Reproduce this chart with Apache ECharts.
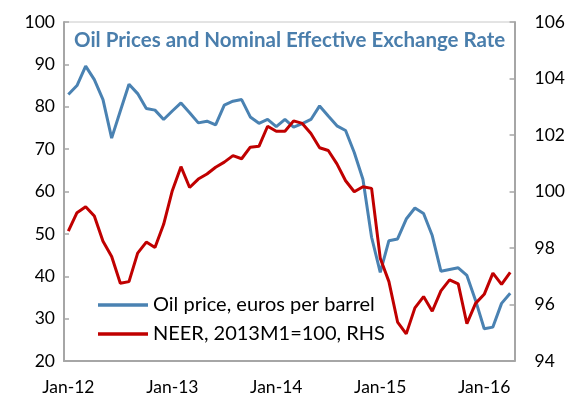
<!DOCTYPE html>
<html>
<head>
<meta charset="utf-8">
<script src="https://cdn.jsdelivr.net/npm/echarts@6/dist/echarts.min.js"></script>
<style>
  html, body { margin: 0; padding: 0; background: #fff; }
  #chart { width: 568px; height: 402px; }
</style>
</head>
<body>
<div id="chart"></div>
<script>
// monthly, Jan-12 .. Apr-16
var months = [
    'Jan-12', 'Feb-12', 'Mar-12', 'Apr-12', 'May-12', 'Jun-12', 'Jul-12', 'Aug-12', 'Sep-12', 'Oct-12', 'Nov-12', 'Dec-12',
    'Jan-13', 'Feb-13', 'Mar-13', 'Apr-13', 'May-13', 'Jun-13', 'Jul-13', 'Aug-13', 'Sep-13', 'Oct-13', 'Nov-13', 'Dec-13',
    'Jan-14', 'Feb-14', 'Mar-14', 'Apr-14', 'May-14', 'Jun-14', 'Jul-14', 'Aug-14', 'Sep-14', 'Oct-14', 'Nov-14', 'Dec-14',
    'Jan-15', 'Feb-15', 'Mar-15', 'Apr-15', 'May-15', 'Jun-15', 'Jul-15', 'Aug-15', 'Sep-15', 'Oct-15', 'Nov-15', 'Dec-15',
    'Jan-16', 'Feb-16', 'Mar-16', 'Apr-16'
];

// oil price, euros per barrel (LHS)
var oilPrice = [
    82.9, 85.0, 89.6, 86.4, 81.7, 72.6, 79.0, 85.3, 83.1, 79.6, 79.2, 77.0,
    79.0, 80.9, 78.6, 76.2, 76.6, 75.7, 80.4, 81.3, 81.7, 77.6, 76.1, 77.0,
    75.3, 77.0, 75.2, 76.0, 77.0, 80.2, 77.8, 75.5, 74.4, 69.2, 62.9, 49.2,
    40.9, 48.4, 48.8, 53.5, 56.1, 54.8, 49.6, 41.2, 41.6, 42.0, 40.2, 34.3,
    27.6, 28.0, 33.6, 36.0
];

// NEER, 2013M1 = 100 (RHS)
var neer = [
    98.60, 99.25, 99.46, 99.13, 98.24, 97.70, 96.75, 96.81, 97.82, 98.21, 98.02, 98.84,
    100.03, 100.88, 100.14, 100.44, 100.62, 100.86, 101.04, 101.27, 101.16, 101.57, 101.60, 102.31,
    102.13, 102.13, 102.50, 102.41, 102.05, 101.55, 101.45, 100.98, 100.38, 99.99, 100.17, 100.11,
    97.64, 96.81, 95.38, 94.96, 95.88, 96.28, 95.76, 96.48, 96.87, 96.73, 95.32, 96.04,
    96.36, 97.11, 96.71, 97.14
];

var FONT = 'Lato';
var AXIS_GRAY = '#a6a6a6';

var chart = echarts.init(document.getElementById('chart'), null, { renderer: 'canvas' });

var option = {
    animation: false,
    textStyle: { fontFamily: FONT },
    title: {
        text: 'Oil Prices and Nominal Effective Exchange Rate',
        left: 74,
        top: 30,
        padding: 0,
        textStyle: { fontFamily: FONT, fontSize: 20.5, fontWeight: 'bold', color: '#4a7eac' }
    },
    grid: {
        left: 64, right: 52, top: 22, bottom: 41,
        show: true, borderColor: '#c8c8c8', borderWidth: 1
    },
    legend: {
        orient: 'vertical',
        left: 98,
        top: 295,
        icon: 'rect',
        itemWidth: 50,
        itemHeight: 3.5,
        itemGap: 9,
        padding: 0,
        textStyle: { fontFamily: FONT, fontSize: 20, color: '#000' },
        data: ['Oil price, euros per barrel', 'NEER, 2013M1=100, RHS']
    },
    xAxis: {
        type: 'category',
        data: months,
        boundaryGap: true,
        axisLine: { lineStyle: { color: AXIS_GRAY, width: 2 } },
        axisTick: { inside: true, interval: 11, length: 5, lineStyle: { color: AXIS_GRAY, width: 1.5 } },
        axisLabel: { interval: 11, margin: 17, fontFamily: FONT, fontSize: 17.5, color: '#000' },
        splitLine: { show: false }
    },
    yAxis: [{
        type: 'value',
        min: 20, max: 100, interval: 10,
        axisLine: { show: true, lineStyle: { color: AXIS_GRAY, width: 2 } },
        axisTick: { show: true, inside: true, length: 5, lineStyle: { color: AXIS_GRAY, width: 1.5 } },
        axisLabel: { margin: 9, fontFamily: FONT, fontSize: 17.5, color: '#000' },
        splitLine: { show: false }
    }, {
        type: 'value',
        min: 94, max: 106, interval: 2,
        position: 'right',
        axisLine: { show: true, lineStyle: { color: AXIS_GRAY, width: 2 } },
        axisTick: { show: true, inside: true, length: 5, lineStyle: { color: AXIS_GRAY, width: 1.5 } },
        axisLabel: { margin: 20, fontFamily: FONT, fontSize: 17.5, color: '#000' },
        splitLine: { show: false }
    }],
    series: [{
        name: 'Oil price, euros per barrel',
        type: 'line',
        yAxisIndex: 0,
        data: oilPrice,
        symbol: 'none',
        color: '#4a82b2',
        lineStyle: { width: 3, color: '#4a82b2' }
    }, {
        name: 'NEER, 2013M1=100, RHS',
        type: 'line',
        yAxisIndex: 1,
        data: neer,
        symbol: 'none',
        color: '#c00000',
        lineStyle: { width: 3, color: '#c00000' }
    }]
};

chart.setOption(option);
</script>
</body>
</html>
